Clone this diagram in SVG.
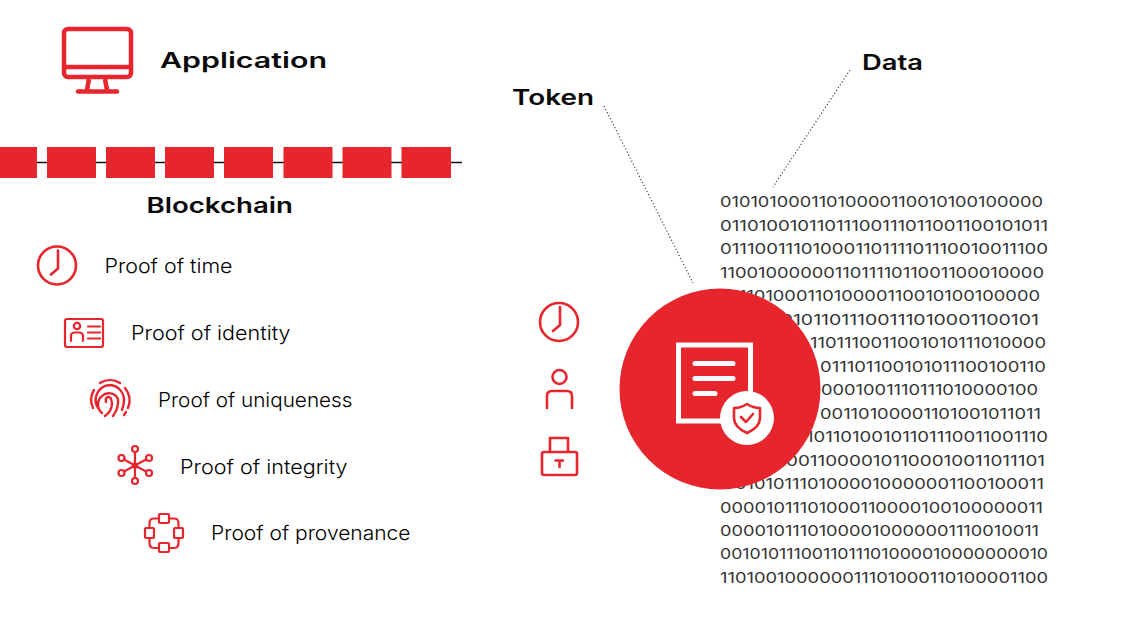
<svg xmlns="http://www.w3.org/2000/svg" width="1130" height="620" viewBox="0 0 1130 620">
<style>
text{font-family:"Inter","Liberation Sans",sans-serif}
.h{font-size:21.500px;font-weight:600;fill:#0a0a0a}
.p{font-size:20px;font-weight:300;fill:#000}
.b{font-size:15px;font-weight:400;fill:#333}
.i{fill:none;stroke:#e7252d;stroke-width:2.600;stroke-linecap:round;stroke-linejoin:round}
.t{stroke-width:2.200}
.w{fill:none;stroke:#fff;stroke-width:5;stroke-linecap:round}
.r{fill:#e7252d}
.d{fill:none;stroke:#333;stroke-width:1.100;stroke-dasharray:1.200 2.200}
</style>
<defs>
<g id="clock"><circle r="19" class="i"/><path class="i" d="M1-15V3L-6 9"/></g>
</defs>
<rect width="1130" height="620" fill="#fff"/>

<g id="connectors">
<path d="M0 162.500H462" stroke="#111" stroke-width="1.500"/>
<path class="d" d="M604 106L693 283"/>
<path class="d" d="M850 70L773 187"/>
</g>

<g id="application">
<rect x="64" y="29" width="67" height="48" rx="4" fill="none" stroke="#e7252d" stroke-width="4.500"/>
<path d="M64 67H131" stroke="#e7252d" stroke-width="4.500"/>
<path d="M89 79L87 90M105 79L107 90" stroke="#e7252d" stroke-width="4.500" fill="none"/>
<path d="M78 91.500H117" stroke="#e7252d" stroke-width="4.500" stroke-linecap="round"/>
<text class="h" x="160" y="68" textLength="167" lengthAdjust="spacingAndGlyphs">Application</text>
</g>

<g id="blockchain">
<rect class="r" x="0" y="147" width="37" height="31"/>
<rect class="r" x="47" y="147" width="49" height="31"/>
<rect class="r" x="106" y="147" width="49" height="31"/>
<rect class="r" x="165" y="147" width="49" height="31"/>
<rect class="r" x="224" y="147" width="49" height="31"/>
<rect class="r" x="283.500" y="147" width="49" height="31"/>
<rect class="r" x="342.500" y="147" width="49" height="31"/>
<rect class="r" x="401.500" y="147" width="49.500" height="31"/>
<text class="h" x="146.500" y="213" textLength="146.500" lengthAdjust="spacingAndGlyphs">Blockchain</text>
</g>

<g id="proof-time">
<use href="#clock" x="57" y="265.500"/>
<text class="p" x="104.500" y="273" textLength="128" lengthAdjust="spacingAndGlyphs">Proof of time</text>
</g>
<g id="proof-identity">
<rect class="i t" x="65" y="319" width="38" height="28" rx="2"/>
<circle class="i t" cx="77" cy="326" r="3.200"/>
<path class="i t" d="M71 341V336Q71 332.500 75 332.500H79Q83 332.500 83 336V341M88 326.500H100M88 332.500H100M88 338.500H100"/>
<text class="p" x="131" y="340" textLength="159.500" lengthAdjust="spacingAndGlyphs">Proof of identity</text>
</g>
<g id="proof-uniqueness">
<g class="i" style="stroke-width:2.400">
<path d="M93 408A19 19 0 0 1 94 390M100 383A19 19 0 0 1 120 383M125 388A20 20 0 0 1 128 408M126 412L124 415"/>
<path d="M98 408A15 15 0 0 1 110 385A15 15 0 0 1 124 400Q124 405 122 410"/>
<path d="M102 413A11 11 0 0 1 102 396A10 10 0 0 1 118 399Q119 408 113 416"/>
<path d="M105 416Q112 411 112 403Q111 396 108 397Q105 398 106 402"/>
</g>
<text class="p" x="158" y="407" textLength="194.500" lengthAdjust="spacingAndGlyphs">Proof of uniqueness</text>
</g>
<g id="proof-integrity">
<g class="i t">
<circle cx="135" cy="465.500" r="2"/>
<circle cx="135" cy="449" r="3"/>
<circle cx="135" cy="481" r="3"/>
<circle cx="121.500" cy="458" r="3"/>
<circle cx="149" cy="458" r="3"/>
<circle cx="121.500" cy="473" r="3"/>
<circle cx="149" cy="473" r="3"/>
<path d="M135 452V478M124 459.500L146 471.500M146 459.500L124 471.500"/>
</g>
<text class="p" x="180" y="473.500" textLength="167.500" lengthAdjust="spacingAndGlyphs">Proof of integrity</text>
</g>
<g id="proof-provenance">
<g class="i t">
<rect x="159" y="514" width="10" height="9" rx="1"/>
<rect x="159" y="543" width="10" height="9" rx="1"/>
<rect x="145" y="528" width="9" height="10" rx="1"/>
<rect x="174" y="528" width="9" height="10" rx="1"/>
<path d="M159 518.500H154Q149.500 518.500 149.500 523V528M169 518.500H174Q178.500 518.500 178.500 523V528M149.500 538V543Q149.500 548 154 548H159M178.500 538V543Q178.500 548 174 548H169"/>
</g>
<text class="p" x="211" y="540" textLength="199.500" lengthAdjust="spacingAndGlyphs">Proof of provenance</text>
</g>

<g id="token-label"><text class="h" x="512" y="105" textLength="82" lengthAdjust="spacingAndGlyphs">Token</text></g>
<g id="data-label"><text class="h" x="862" y="70" textLength="61" lengthAdjust="spacingAndGlyphs">Data</text></g>

<g id="token-icons">
<use href="#clock" x="559" y="322"/>
<circle class="i" cx="559.500" cy="377" r="7"/>
<path class="i" d="M547 408V396Q547 391 552 391H567Q572 391 572 396V408"/>
<rect class="i" x="542" y="452" width="35" height="23" rx="2"/>
<path class="i" d="M550 452V438H568V452"/>
<path class="i" d="M555.500 460.500H563M559.500 460.500V467"/>
</g>

<g id="data">
<text class="b" x="720" y="207" textLength="323" lengthAdjust="spacingAndGlyphs">01010100011010000110010100100000</text>
<text class="b" x="720" y="230.500" textLength="328" lengthAdjust="spacingAndGlyphs">01101001011011100111011001100101011</text>
<text class="b" x="720" y="254" textLength="328" lengthAdjust="spacingAndGlyphs">01110011101000110111101110010011100</text>
<text class="b" x="720" y="277.500" textLength="324" lengthAdjust="spacingAndGlyphs">110010000001101111011001100010000</text>
<text class="b" x="720" y="301" textLength="320" lengthAdjust="spacingAndGlyphs">01110100011010000110010100100000</text>
<text class="b" x="720" y="324.500" textLength="319" lengthAdjust="spacingAndGlyphs">01100101011011100111010001100101</text>
<text class="b" x="810" y="348" textLength="236" lengthAdjust="spacingAndGlyphs">1101110011001010111010000</text>
<text class="b" x="820" y="371.500" textLength="226" lengthAdjust="spacingAndGlyphs">011101100101011100100110</text>
<text class="b" x="821" y="395" textLength="217" lengthAdjust="spacingAndGlyphs">0001001110111010000100</text>
<text class="b" x="820" y="418.500" textLength="221" lengthAdjust="spacingAndGlyphs">00110100001101001011011</text>
<text class="b" x="806" y="442" textLength="242" lengthAdjust="spacingAndGlyphs">10110100101101110011001110</text>
<text class="b" x="786" y="465.500" textLength="259" lengthAdjust="spacingAndGlyphs">00110000101100010011011101</text>
<text class="b" x="735" y="489" textLength="309" lengthAdjust="spacingAndGlyphs">0101011101000010000001100100011</text>
<text class="b" x="720" y="512.500" textLength="323" lengthAdjust="spacingAndGlyphs">00001011101000110000100100000011</text>
<text class="b" x="720" y="536" textLength="319" lengthAdjust="spacingAndGlyphs">00001011101000010000001110010011</text>
<text class="b" x="720" y="559" textLength="328" lengthAdjust="spacingAndGlyphs">0010101110011011101000010000000010</text>
<text class="b" x="720" y="583" textLength="328" lengthAdjust="spacingAndGlyphs">110100100000011101000110100001100</text>
</g>

<g id="token">
<circle class="r" cx="720" cy="389" r="100.500"/>
<rect x="678.500" y="345" width="72" height="76" fill="none" stroke="#fff" stroke-width="5"/>
<path class="w" d="M695 363.500H733M695 378.500H733M695 393.500H715"/>
<circle cx="747" cy="418" r="27" fill="#fff"/>
<path class="i" d="M747 404Q741 408 734 408V418Q734 427 747 433Q760 427 760 418V408Q753 408 747 404Z"/>
<path class="i" d="M741 417L746 422L753 414"/>
</g>
</svg>
